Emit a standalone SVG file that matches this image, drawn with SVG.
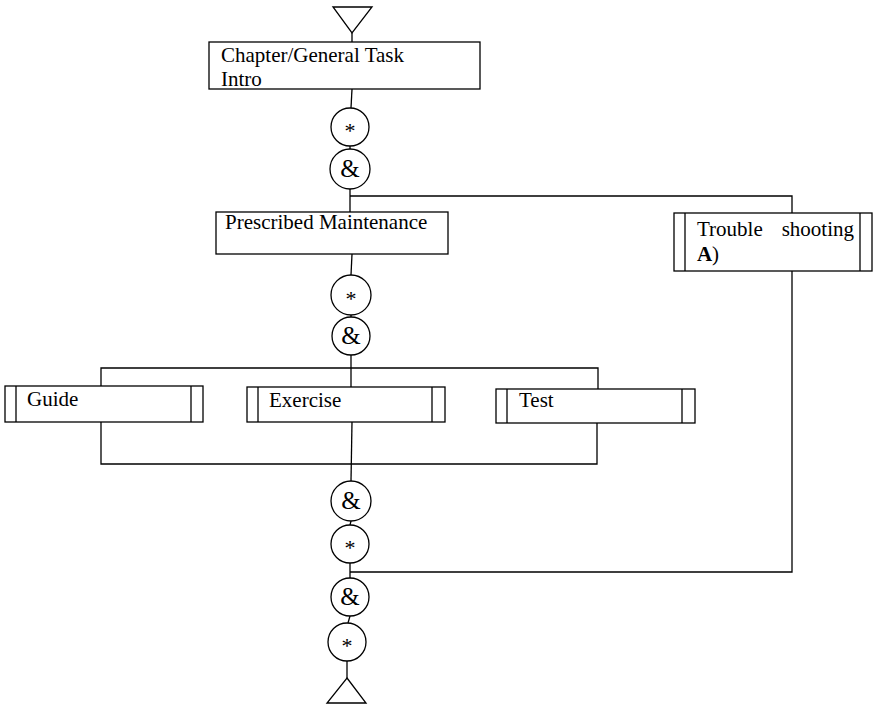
<svg xmlns="http://www.w3.org/2000/svg" width="873" height="705" viewBox="0 0 873 705">
  <style>
    .box { fill: #fff; stroke: #000; stroke-width: 1.3; }
    .bar { fill: none; stroke: #000; stroke-width: 1.3; }
    .node { fill: #fff; stroke: #000; stroke-width: 1.3; }
    .wire { fill: none; stroke: #000; stroke-width: 1.3; }
    .lbl { font-family: "Liberation Serif", "Times New Roman", serif; font-size: 21px; fill: #000; }
    .sym { font-family: "Liberation Serif", "Times New Roman", serif; fill: #000; text-anchor: middle; }
    .amp { font-size: 25px; }
    .ast { font-size: 22px; }
  </style>

  <!-- connectors -->
  <g id="connectors">
    <line class="wire" x1="352" y1="33" x2="352" y2="42"/>
    <line class="wire" x1="352" y1="89" x2="351" y2="108"/>
    <line class="wire" x1="350" y1="146" x2="350" y2="149"/>
    <line class="wire" x1="350" y1="189" x2="350" y2="212"/>
    <polyline class="wire" points="350,196 792,196 792,213"/>
    <line class="wire" x1="352" y1="254" x2="351" y2="275"/>
    <line class="wire" x1="351" y1="315" x2="351" y2="317"/>
    <line class="wire" x1="351" y1="355" x2="351" y2="387"/>
    <polyline class="wire" points="101,386 101,368 598,368 598,389"/>
    <polyline class="wire" points="101,422 101,464 597,464 597,423"/>
    <line class="wire" x1="352" y1="422" x2="351" y2="481"/>
    <line class="wire" x1="351" y1="521" x2="350" y2="525"/>
    <line class="wire" x1="350" y1="563" x2="350" y2="578"/>
    <polyline class="wire" points="350,572 792,572 792,271"/>
    <line class="wire" x1="350" y1="616" x2="348" y2="623"/>
    <line class="wire" x1="347" y1="661" x2="347" y2="678"/>
  </g>

  <!-- start marker -->
  <g id="start">
    <polygon class="node" points="333,7 372,7 352,33"/>
  </g>

  <g id="intro">
    <rect class="box" x="209" y="42" width="271" height="47"/>
    <text class="lbl" x="221" y="62">Chapter/General Task</text>
    <text class="lbl" x="221" y="86">Intro</text>
  </g>

  <g id="seq1"><circle class="node" cx="350" cy="127" r="19"/><text class="sym ast" x="350" y="138">*</text></g>
  <g id="par1"><circle class="node" cx="350" cy="169" r="20"/><text class="sym amp" x="350" y="177">&amp;</text></g>

  <g id="prescribed">
    <rect class="box" x="216" y="212" width="232" height="42"/>
    <text class="lbl" x="225" y="229">Prescribed Maintenance</text>
  </g>

  <g id="trouble">
    <rect class="box" x="674" y="213" width="198" height="58"/>
    <line class="bar" x1="685" y1="213" x2="685" y2="271"/>
    <line class="bar" x1="860" y1="213" x2="860" y2="271"/>
    <text class="lbl" x="697" y="236">Trouble</text>
    <text class="lbl" x="854" y="236" text-anchor="end">shooting</text>
    <text class="lbl" x="697" y="261" font-weight="bold">A</text>
    <text class="lbl" x="712" y="261">)</text>
  </g>

  <g id="seq2"><circle class="node" cx="351" cy="295" r="20"/><text class="sym ast" x="351" y="306">*</text></g>
  <g id="par2"><circle class="node" cx="351" cy="336" r="19"/><text class="sym amp" x="351" y="344">&amp;</text></g>

  <g id="guide">
    <rect class="box" x="5" y="386" width="198" height="36"/>
    <line class="bar" x1="16" y1="386" x2="16" y2="422"/>
    <line class="bar" x1="191" y1="386" x2="191" y2="422"/>
    <text class="lbl" x="27" y="406">Guide</text>
  </g>

  <g id="exercise">
    <rect class="box" x="247" y="387" width="198" height="35"/>
    <line class="bar" x1="258" y1="387" x2="258" y2="422"/>
    <line class="bar" x1="432" y1="387" x2="432" y2="422"/>
    <text class="lbl" x="269" y="407">Exercise</text>
  </g>

  <g id="test">
    <rect class="box" x="496" y="389" width="199" height="34"/>
    <line class="bar" x1="507" y1="389" x2="507" y2="423"/>
    <line class="bar" x1="682" y1="389" x2="682" y2="423"/>
    <text class="lbl" x="519" y="407">Test</text>
  </g>

  <g id="par3"><circle class="node" cx="351" cy="501" r="20"/><text class="sym amp" x="351" y="509">&amp;</text></g>
  <g id="seq3"><circle class="node" cx="350" cy="544" r="19"/><text class="sym ast" x="350" y="555">*</text></g>
  <g id="par4"><circle class="node" cx="350" cy="597" r="19"/><text class="sym amp" x="350" y="605">&amp;</text></g>
  <g id="seq4"><circle class="node" cx="347" cy="642" r="19"/><text class="sym ast" x="347" y="653">*</text></g>

  <!-- end marker -->
  <g id="end">
    <polygon class="node" points="347,678 366,703 327,703"/>
  </g>
</svg>
